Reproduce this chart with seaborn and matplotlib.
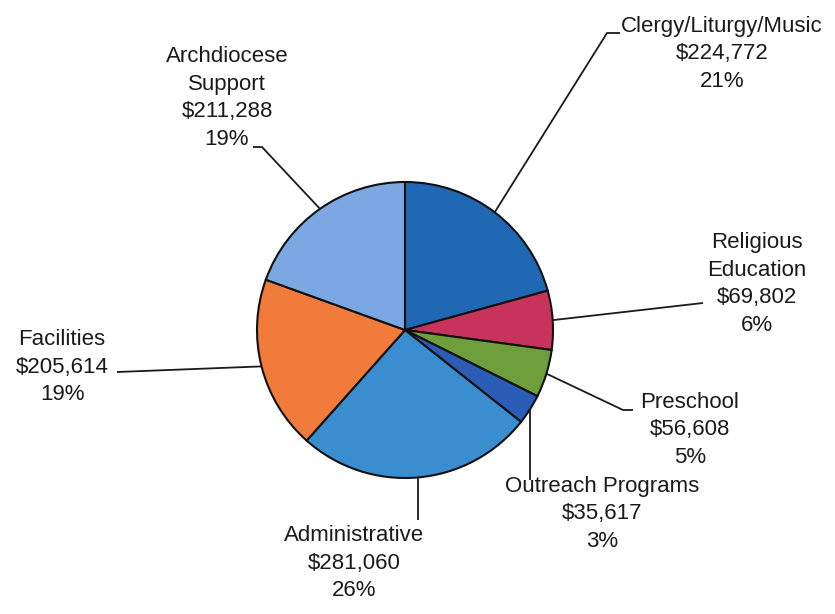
import numpy as np
import matplotlib
matplotlib.use("Agg")
import matplotlib.pyplot as plt
import seaborn as sns

categories = ["Clergy/Liturgy/Music", "Religious\nEducation", "Preschool",
              "Outreach Programs", "Administrative", "Facilities",
              "Archdiocese\nSupport"]
amounts = [224772, 69802, 56608, 35617, 281060, 205614, 211288]
colors = ["#2068b3", "#c8335c", "#6f9f3d", "#2b5cb6", "#3a8ecf", "#f07b3b", "#7ba8e2"]

# label placement in picture pixels (x, y from top)
text_pos = [(722, 54), (757, 284), (690, 430), (602, 514), (354, 563), (62, 367), (227, 98)]
leader_pts = [
    [(607, 33), (620, 33)],
    [(703, 303)],
    [(623, 410), (633, 410)],
    [None],
    [None],
    [(117, 372)],
    [(262, 147), (253, 147)],
]
leader_drop = [None, None, None, 480, 520, None, None]

sns.set_theme(style="white")
plt.rcParams["font.family"] = ["Liberation Sans", "DejaVu Sans"]

W, H = 835, 614
fig = plt.figure(figsize=(W / 100, H / 100), dpi=100)
ax = fig.add_axes([0, 0, 1, 1])
ax.set_xlim(0, W)
ax.set_ylim(0, H)
ax.set_aspect("equal")
ax.axis("off")

cx, cy, r = 405, 330, 148
wedges, _ = ax.pie(amounts, colors=colors, startangle=90, counterclock=False,
                   center=(cx, H - cy), radius=r,
                   wedgeprops=dict(edgecolor="#111111", linewidth=1.5))
ax.set_xlim(0, W)
ax.set_ylim(0, H)

total = sum(amounts)
for i, w in enumerate(wedges):
    mid = np.deg2rad((w.theta1 + w.theta2) / 2)
    ex = cx + r * np.cos(mid)
    ey = cy - r * np.sin(mid)
    pts = [(ex, ey)]
    if leader_drop[i] is not None:
        pts.append((ex, leader_drop[i]))
    else:
        pts += leader_pts[i]
    xs = [p[0] for p in pts]
    ys = [H - p[1] for p in pts]
    ax.plot(xs, ys, color="#1a1a1a", lw=1.3, solid_capstyle="butt")

    pct = round(amounts[i] / total * 100)
    label = f"{categories[i]}\n${amounts[i]:,}\n{pct}%"
    tx, ty = text_pos[i]
    ax.text(tx, H - ty, label, ha="center", va="center", multialignment="center",
            fontsize=16, color="#1a1a1a", linespacing=1.42)

fig.savefig("out.png", dpi=100, facecolor="white")
